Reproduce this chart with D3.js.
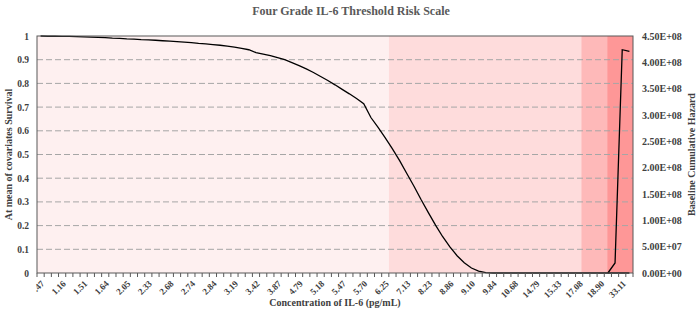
<!DOCTYPE html>
<html>
<head>
<meta charset="utf-8">
<script src="https://cdn.jsdelivr.net/npm/d3@7"></script>
<style>
  body { margin: 0; background: #fff; }
  svg text { font-family: "Liberation Serif", "Times New Roman", serif; font-weight: bold; }
</style>
</head>
<body>
<div id="chart"></div>
<script>
// IL-6 concentration categories (only every 3rd is printed on the axis)
var concentrations = [
  ".47", ".82", "1.02", "1.16", "1.30", "1.42", "1.51", "1.56", "1.60", "1.64",
  "1.78", "1.93", "2.05", "2.16", "2.25", "2.33", "2.45", "2.57", "2.68", "2.70",
  "2.72", "2.74", "2.77", "2.80", "2.84", "2.96", "3.08", "3.19", "3.27", "3.35",
  "3.42", "3.57", "3.72", "3.87", "4.18", "4.49", "4.79", "4.92", "5.05", "5.18",
  "5.28", "5.38", "5.47", "5.55", "5.63", "5.70", "5.88", "6.07", "6.25", "6.54",
  "6.84", "7.13", "7.50", "7.86", "8.23", "8.44", "8.65", "8.86", "8.94", "9.02",
  "9.10", "9.35", "9.59", "9.84", "10.12", "10.40", "10.68", "12.05", "13.42", "14.79",
  "14.97", "15.15", "15.33", "15.91", "16.50", "17.08", "17.69", "18.29", "18.90", "23.64",
  "28.37", "33.11", "40.25"
];
var labelEvery = 3;

// survival at mean of covariates (left axis)
var survival = [
  1.000, 0.999, 0.999, 0.998, 0.998, 0.997, 0.996, 0.995, 0.994, 0.993,
  0.991, 0.990, 0.988, 0.987, 0.985, 0.984, 0.982, 0.980, 0.978, 0.976,
  0.974, 0.972, 0.969, 0.967, 0.964, 0.961, 0.957, 0.953, 0.948, 0.942,
  0.930, 0.924, 0.917, 0.909, 0.900, 0.888, 0.875, 0.861, 0.846, 0.829,
  0.812, 0.794, 0.775, 0.756, 0.736, 0.714, 0.656, 0.614, 0.570, 0.524,
  0.474, 0.420, 0.366, 0.309, 0.255, 0.202, 0.153, 0.110, 0.073, 0.043,
  0.021, 0.008, 0.002, 0, 0, 0, 0, 0, 0, 0,
  0, 0, 0, 0, 0, 0, 0, 0, 0, 0,
  0, 0, 0
];

// baseline cumulative hazard (right axis), only the tail leaves zero
var hazardStart = 79;
var hazard = [0, 1.9e7, 4.24e8, 4.21e8];

// four risk grades, bounds in category units
var gradeBounds = [0, 49, 75.8, 79.4, 83];
var gradeColors = ["#fef0f0", "#fedcdc", "#feb9b9", "#fe9797"];

var leftTicks = [0, 0.1, 0.2, 0.3, 0.4, 0.5, 0.6, 0.7, 0.8, 0.9, 1];
var rightTicks = [0, 5e7, 1e8, 1.5e8, 2e8, 2.5e8, 3e8, 3.5e8, 4e8, 4.5e8];

var width = 700, height = 311;
var margin = {top: 36, right: 67, bottom: 38, left: 37};
var plotW = width - margin.left - margin.right;
var plotH = height - margin.top - margin.bottom;

var svg = d3.select("#chart").append("svg")
  .attr("width", width)
  .attr("height", height);

var g = svg.append("g").attr("transform", "translate(" + margin.left + "," + margin.top + ")");

var x = d3.scaleBand().domain(concentrations).range([0, plotW]).padding(0);
var xi = d3.scaleLinear().domain([0, concentrations.length]).range([0, plotW]);
var yL = d3.scaleLinear().domain([0, 1]).range([plotH, 0]);
var yR = d3.scaleLinear().domain([0, 4.5e8]).range([plotH, 0]);
function cx(i) { return x(concentrations[i]) + x.bandwidth() / 2; }

// grade shading
g.selectAll("rect.grade")
  .data(gradeColors)
  .enter().append("rect")
  .attr("class", "grade")
  .attr("x", function(d, i) { return xi(gradeBounds[i]); })
  .attr("width", function(d, i) { return xi(gradeBounds[i + 1]) - xi(gradeBounds[i]); })
  .attr("y", 0)
  .attr("height", plotH)
  .attr("fill", function(d) { return d; });

// dashed gridlines
g.selectAll("line.grid")
  .data(leftTicks.filter(function(d) { return d > 0 && d < 1; }))
  .enter().append("line")
  .attr("class", "grid")
  .attr("x1", 0).attr("x2", plotW)
  .attr("y1", function(d) { return yL(d); })
  .attr("y2", function(d) { return yL(d); })
  .attr("stroke", "#a6a6a6")
  .attr("stroke-width", 1)
  .attr("stroke-dasharray", "6,3");

// survival line
var survLine = d3.line()
  .x(function(d, i) { return cx(i); })
  .y(function(d) { return yL(d); });
g.append("path")
  .attr("d", survLine(survival))
  .attr("fill", "none")
  .attr("stroke", "#000")
  .attr("stroke-width", 1.3);

// hazard line
var hazLine = d3.line()
  .x(function(d, i) { return cx(hazardStart + i); })
  .y(function(d) { return yR(d); });
g.append("path")
  .attr("d", hazLine(hazard))
  .attr("fill", "none")
  .attr("stroke", "#000")
  .attr("stroke-width", 1.3);

// plot border
g.append("rect")
  .attr("width", plotW).attr("height", plotH)
  .attr("fill", "none")
  .attr("stroke", "#595959")
  .attr("stroke-width", 1);

// x tick marks at category edges
g.selectAll("line.xtick")
  .data(d3.range(concentrations.length + 1))
  .enter().append("line")
  .attr("class", "xtick")
  .attr("x1", function(d) { return xi(d); })
  .attr("x2", function(d) { return xi(d); })
  .attr("y1", plotH).attr("y2", plotH + 4)
  .attr("stroke", "#595959");

// x axis labels
var xAxis = d3.axisBottom(x)
  .tickValues(concentrations.filter(function(d, i) { return i % labelEvery === 0; }))
  .tickSize(0);
var xg = g.append("g").attr("transform", "translate(0," + plotH + ")").call(xAxis);
xg.select(".domain").remove();
xg.selectAll("text")
  .attr("fill", "#404040")
  .style("font-size", "9px")
  .attr("text-anchor", "end")
  .attr("x", 0).attr("y", 0).attr("dy", "0.35em")
  .attr("transform", "translate(2,9) rotate(-45)");

// left axis
var yg = g.append("g").call(d3.axisLeft(yL).tickValues(leftTicks).tickSize(0).tickPadding(8)
  .tickFormat(function(d) { return d3.format("")(+d.toFixed(1)); }));
yg.select(".domain").remove();
yg.selectAll("text").attr("fill", "#404040").style("font-size", "9.5px");

// right axis
var rg = g.append("g").attr("transform", "translate(" + plotW + ",0)")
  .call(d3.axisRight(yR).tickValues(rightTicks).tickSize(0).tickPadding(9)
    .tickFormat(function(d) {
      var p = d3.format(".2e")(d).split("e+");
      return p[0] + "E+" + (p[1].length < 2 ? "0" + p[1] : p[1]);
    }));
rg.select(".domain").remove();
rg.selectAll("text").attr("fill", "#404040").style("font-size", "10px");

// titles
svg.append("text")
  .attr("x", 351).attr("y", 15)
  .attr("text-anchor", "middle")
  .attr("fill", "#595959")
  .style("font-size", "12px")
  .text("Four Grade IL-6 Threshold Risk Scale");

svg.append("text")
  .attr("x", margin.left + plotW / 2).attr("y", 306)
  .attr("text-anchor", "middle")
  .attr("fill", "#404040")
  .style("font-size", "10px")
  .text("Concentration of IL-6 (pg/mL)");

svg.append("text")
  .attr("transform", "translate(12," + (margin.top + plotH / 2) + ") rotate(-90)")
  .attr("text-anchor", "middle")
  .attr("fill", "#404040")
  .style("font-size", "10px")
  .text("At mean of covariates Survival");

svg.append("text")
  .attr("transform", "translate(695," + (margin.top + plotH / 2) + ") rotate(-90)")
  .attr("text-anchor", "middle")
  .attr("fill", "#404040")
  .style("font-size", "10px")
  .text("Baseline Cumulative Hazard");
</script>
</body>
</html>
